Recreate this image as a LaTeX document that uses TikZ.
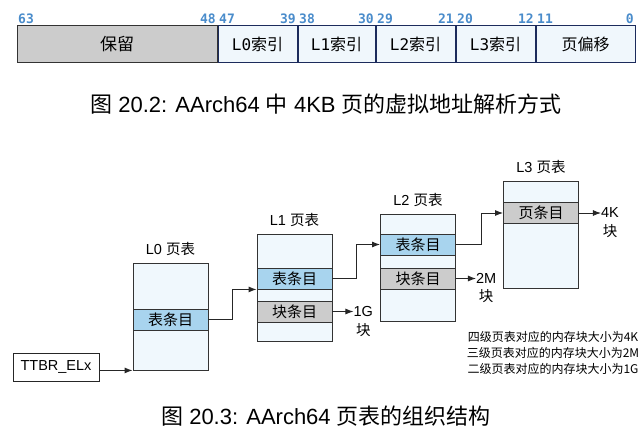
\documentclass[tikz,border=0pt]{standalone}
\usepackage{fontspec}
\setmainfont{Liberation Sans}
\newfontfamily\cjk{Noto Sans CJK SC}
\newfontfamily\monofnt{DejaVu Sans Mono}
\usetikzlibrary{arrows.meta, positioning}
\definecolor{cTable}{HTML}{F0F8FD}
\definecolor{cTabEntry}{HTML}{A8D4EE}
\definecolor{cBlkEntry}{HTML}{CCCCCC}
\definecolor{cField}{HTML}{F0F7FC}
\definecolor{cFieldLine}{HTML}{1C2B5C}
\definecolor{cBitNo}{HTML}{4A8CCB}
\newcommand{\fsz}[1]{\fontsize{#1}{#1}\selectfont}
\tikzset{
  field/.style={draw=cFieldLine, fill=cField, line width=1pt, minimum height=37pt,
    inner sep=0pt, font=\monofnt\fsz{16}},
  rsvfield/.style={field, draw=black!80, fill=cBlkEntry, font=\cjk\fsz{17}},
  bitno/.style={font=\monofnt\bfseries\fsz{13}, text=cBitNo, inner sep=1.5pt},
  pgtable/.style={draw=black!80, fill=cTable, line width=0.9pt,
    minimum width=75pt, minimum height=107pt, inner sep=0pt},
  tabentry/.style={draw=black!80, fill=cTabEntry, line width=0.9pt,
    minimum width=75pt, minimum height=21pt, inner sep=0pt, font=\cjk\fsz{15}},
  blkentry/.style={tabentry, fill=cBlkEntry},
  tablabel/.style={font=\fsz{14.5}, inner sep=0pt},
  sizelabel/.style={font=\fsz{14.5}, inner sep=0pt},
  regbox/.style={draw=black!85, line width=0.9pt, minimum width=86pt,
    minimum height=28pt, inner sep=0pt, font=\fsz{14.5}},
  notes/.style={font=\cjk\fontsize{12}{16}\selectfont, align=center},
  caption/.style={font=\fsz{22}},
  flow/.style={-{Latex[length=8pt, width=6pt]}, line width=0.9pt, draw=black!85},
}

\begin{document}
\begin{tikzpicture}[x=1pt, y=-1pt]
  \useasboundingbox (0,0) rectangle (642,441);

  % ---------------- address fields ----------------
  \node[rsvfield, minimum width=200pt] (rsv) at (117,44.5) {保留};
  \node[field, minimum width=79pt, right=0pt of rsv] (i0) {L0{\cjk 索引}};
  \node[field, minimum width=77pt, right=0pt of i0]  (i1) {L1{\cjk 索引}};
  \node[field, minimum width=79pt, right=0pt of i1]  (i2) {L2{\cjk 索引}};
  \node[field, minimum width=79pt, right=0pt of i2]  (i3) {L3{\cjk 索引}};
  \node[field, minimum width=99pt, right=0pt of i3]  (off) {\cjk 页偏移};

  \foreach \seg/\hi/\lo in {rsv/63/48, i0/47/39, i1/38/30, i2/29/21, i3/20/12, off/11/0} {
    \node[bitno, anchor=south west] (\seg-hi) at (\seg.north west) {\hi};
    \node[bitno, anchor=south east] (\seg-lo) at (\seg.north east) {\lo};
  }

  \node[caption] (cap1) at (326,104)
    {{\cjk 图} 20.2: AArch64 {\cjk 中} 4KB {\cjk 页的虚拟地址解析方式}};

  % ---------------- page tables ----------------
  \node[pgtable] (l0) at (170.5,316.5) {};
  \node[tabentry, below=46pt of l0.north] (l0e) {表条目};
  \node[tablabel, above=7pt of l0] (l0lbl) {L0 {\cjk 页表}};

  \node[pgtable] (l1) at (294.5,287.5) {};
  \node[tabentry, below=34pt of l1.north] (l1e) {表条目};
  \node[blkentry, below=67pt of l1.north] (l1b) {块条目};
  \node[tablabel, above=7pt of l1] (l1lbl) {L1 {\cjk 页表}};

  \node[pgtable] (l2) at (418,267.5) {};
  \node[tabentry, below=20pt of l2.north] (l2e) {表条目};
  \node[blkentry, below=54pt of l2.north] (l2b) {块条目};
  \node[tablabel, above=7pt of l2] (l2lbl) {L2 {\cjk 页表}};

  \node[pgtable] (l3) at (541,235) {};
  \node[blkentry, below=21pt of l3.north] (l3e) {页条目};
  \node[tablabel, above=7pt of l3] (l3lbl) {L3 {\cjk 页表}};

  \node[regbox] (ttbr) at (56,367) {TTBR\_ELx};

  % block sizes
  \node[sizelabel, right=21pt of l1b] (g1) {1G};
  \node[sizelabel, below=6pt of g1] (g1blk) {\cjk 块};
  \node[sizelabel, right=20pt of l2b] (m2) {2M};
  \node[sizelabel, below=6pt of m2] (m2blk) {\cjk 块};
  \node[sizelabel, right=22pt of l3e] (k4) {4K};
  \node[sizelabel, below=6pt of k4] (k4blk) {\cjk 块};

  \node[notes] (note) at (553,353)
    {四级页表对应的内存块大小为4K\\三级页表对应的内存块大小为2M\\二级页表对应的内存块大小为1G};

  % ---------------- arrows ----------------
  \draw[flow] (ttbr.east |- l0.south) -- (l0.south west);
  \draw[flow] (l0e.east) -- ++(24,0) |- (l1e.south west);
  \draw[flow] (l1e.east) -- ++(24,0) |- (l2e.west);
  \draw[flow] (l2e.east) -- ++(25,0) |- (l3e.west);
  \draw[flow] (l1b) -- (g1);
  \draw[flow] (l2b) -- (m2);
  \draw[flow] (l3e) -- (k4);

  \node[caption] (cap2) at (326,416)
    {{\cjk 图} 20.3: AArch64 {\cjk 页表的组织结构}};
\end{tikzpicture}
\end{document}
